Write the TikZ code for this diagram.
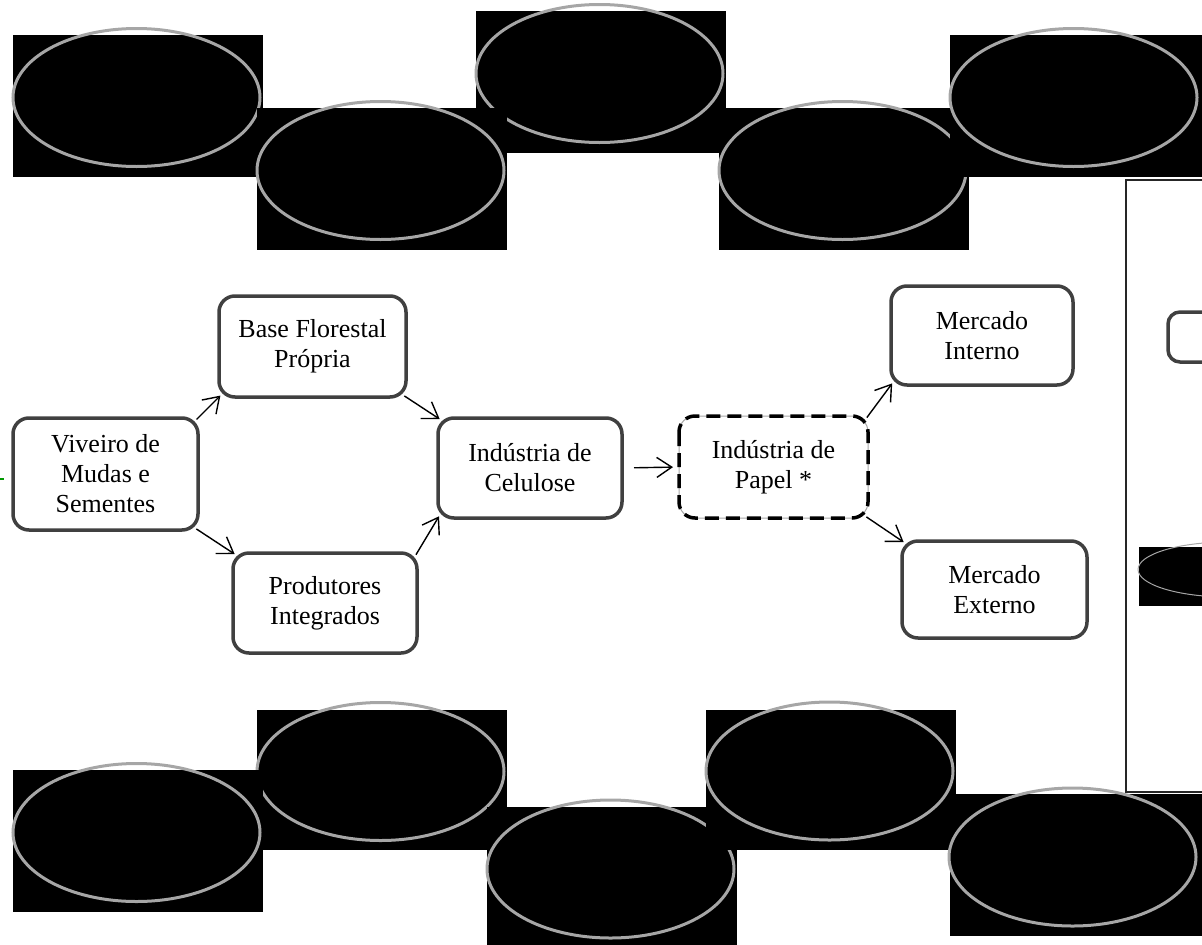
\documentclass[tikz,border=0pt]{standalone}
\usepackage{fontspec}
\setmainfont{Liberation Serif}
\usepackage{xcolor}
\usetikzlibrary{arrows.meta}

\definecolor{contorno}{HTML}{404040}
\definecolor{anel}{HTML}{A6A6A6}

\tikzset{
  etapa/.style={draw=contorno, line width=3.5pt, rounded corners=16pt, fill=white,
    align=center, inner sep=0pt, outer sep=0pt, font=\fontsize{26}{30}\selectfont},
  anelcinza/.style={draw=anel, line width=3pt},
}

\begin{document}
\begin{tikzpicture}[x=1pt,y=-1pt,>={Straight Barb[length=15pt,width=20pt]}]
\useasboundingbox (0,0) rectangle (1202,945);
\clip (0,0) rectangle (1202,945);

% blocos pretos de cima
\fill[black] (13,35) rectangle +(250,142);
\draw[anelcinza] (136.5,97.5) ellipse (123.5 and 69);
\fill[black] (476,11) rectangle +(250,142);
\draw[anelcinza] (599.5,73.5) ellipse (123.5 and 69);
\fill[black] (257,108) rectangle +(250,142);
\draw[anelcinza] (380.5,170.5) ellipse (123.5 and 69);
\fill[black] (719,108) rectangle +(250,142);
\draw[anelcinza] (842.5,170.5) ellipse (123.5 and 69);
\fill[black] (950,35) rectangle +(252,142);
\draw[anelcinza] (1073.5,97.5) ellipse (123.5 and 69);

% blocos pretos de baixo
\fill[black] (257,710) rectangle +(250,140);
\draw[anelcinza] (380.5,771.5) ellipse (123.5 and 69);
\fill[black] (13,770) rectangle +(250,142);
\draw[anelcinza] (136.5,832.5) ellipse (123.5 and 69);
\fill[black] (487,807) rectangle +(250,142);
\draw[anelcinza] (610.5,869) ellipse (123.5 and 69);
\fill[black] (706,710) rectangle +(250,140);
\draw[anelcinza] (829.5,771) ellipse (123.5 and 69);
\fill[black] (950,794) rectangle +(252,142);
\draw[anelcinza] (1072.5,857) ellipse (123.5 and 69);

% painel da direita
\draw[black!85,line width=1.5pt] (1126,180) rectangle (1230,792);
\draw[contorno,line width=3.5pt,rounded corners=12pt] (1168,312) rectangle (1240,362);
\fill[black] (1139,547) rectangle (1202,606);
\draw[anel,line width=1pt] (1228,569.5) ellipse (90 and 27.5);

\draw[green!60!black,line width=2pt] (0,479) -- (4,479);

% etapas da cadeia
\node[etapa, minimum width=185pt, minimum height=112pt] (viveiro) at (105.5,474) {Viveiro de\\Mudas e\\Sementes};
\node[etapa, minimum width=187pt, minimum height=101pt] (base) at (312.5,346.5) {Base Florestal\\Própria};
\node[etapa, minimum width=184pt, minimum height=100pt] (produtores) at (325,603) {Produtores\\Integrados};
\node[etapa, minimum width=184pt, minimum height=100pt] (celulose) at (530,468) {Indústria de\\Celulose};
\node[etapa, draw=anel, line width=1pt, minimum width=189pt, minimum height=102pt] (papel) at (773.5,467) {Indústria de\\Papel *};
\draw[black, line width=3.5pt, dash pattern=on 14pt off 7pt, rounded corners=16pt]
  (papel.north west) rectangle (papel.south east);
\node[etapa, minimum width=182pt, minimum height=99pt] (interno) at (982,335.5) {Mercado\\Interno};
\node[etapa, minimum width=185pt, minimum height=97pt] (externo) at (994.5,589.5) {Mercado\\Externo};

% setas
\begin{scope}[line width=1.4pt, shorten >=-2pt, shorten <=-2pt]
\draw[->] (viveiro.north east) -- (base.south west);
\draw[->] (base.south east) -- (celulose.north west);
\draw[->] (viveiro.south east) -- (produtores.north west);
\draw[->] (produtores.north east) -- (celulose.south west);
\draw[->, shorten <=12pt, shorten >=6pt] (celulose.east) -- (papel.west);
\draw[->] (papel.north east) -- (interno.south west);
\draw[->] (papel.south east) -- (externo.north west);
\end{scope}
\end{tikzpicture}
\end{document}
